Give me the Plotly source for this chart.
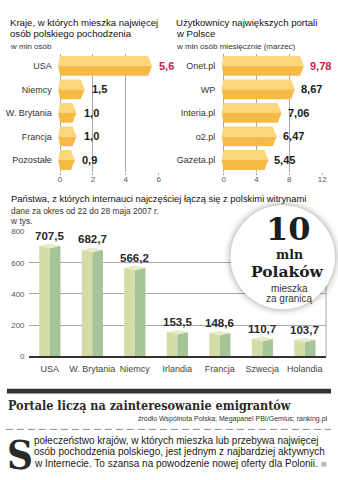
import plotly.graph_objects as go

# ---------------- data ----------------
countries = ["USA", "Niemcy", "W. Brytania", "Francja", "Pozostałe"]
countries_mln = [5.6, 1.5, 1.0, 1.0, 0.9]
countries_ticks = [0, 2, 4, 6]

portals = ["Onet.pl", "WP", "Interia.pl", "o2.pl", "Gazeta.pl"]
portal_users_mln = [9.78, 8.67, 7.06, 6.47, 5.45]
portal_ticks = [0, 4, 8, 12]

visit_countries = ["USA", "W. Brytania", "Niemcy", "Irlandia", "Francja", "Szwecja", "Holandia"]
visits_thousands = [707.5, 682.7, 566.2, 153.5, 148.6, 110.7, 103.7]
visit_ticks = [0, 200, 400, 600, 800]

# ---------------- style helpers ----------------
W, H = 338, 480
SANS = "Liberation Sans Narrow, Liberation Sans, Arial, sans-serif"
SLAB = "DejaVu Serif Condensed, DejaVu Serif, serif"
SLAB_WIDE = "DejaVu Serif, serif"
DARK = "#1a1a1a"
RED = "#c8234b"
YEL_LIGHT = "#fdd67c"
YEL_DARK = "#f5bb46"
GRN_LIGHT = "#d2dda8"
GRN_DARK = "#a7c498"
GRN_CAP = "#e6ebc8"
GRID = "#a8a8a8"


def px(x):
    return x / W


def py(y):
    return 1 - y / H


def fmt(v, d):
    return f"{v:.{d}f}".replace(".", ",")


def hex_bars(values, half, tip, notch):
    ux, uy, lx, ly = [], [], [], []
    for i, v in enumerate(values):
        ux += [-notch, 0, v - tip, v, -notch, None]
        uy += [i, i - half, i - half, i, i, None]
        lx += [-notch, 0, v - tip, v, -notch, None]
        ly += [i, i + half, i + half, i, i, None]
    return ux, uy, lx, ly


fig = go.Figure()

# ---------------- top-left: countries ----------------
tl_ppu = 100 / 6.0
ux, uy, lx, ly = hex_bars(countries_mln, 0.42, 4 / tl_ppu, 2 / tl_ppu)
fig.add_trace(go.Scatter(x=lx, y=ly, mode="lines", fill="toself", fillcolor=YEL_DARK,
                         line=dict(width=0), xaxis="x", yaxis="y", hoverinfo="skip"))
fig.add_trace(go.Scatter(x=ux, y=uy, mode="lines", fill="toself", fillcolor=YEL_LIGHT,
                         line=dict(width=0), xaxis="x", yaxis="y", hoverinfo="skip"))

# ---------------- top-right: portals ----------------
tr_ppu = 100 / 12.0
ux, uy, lx, ly = hex_bars(portal_users_mln, 0.42, 4 / tr_ppu, 2 / tr_ppu)
fig.add_trace(go.Scatter(x=lx, y=ly, mode="lines", fill="toself", fillcolor=YEL_DARK,
                         line=dict(width=0), xaxis="x2", yaxis="y2", hoverinfo="skip"))
fig.add_trace(go.Scatter(x=ux, y=uy, mode="lines", fill="toself", fillcolor=YEL_LIGHT,
                         line=dict(width=0), xaxis="x2", yaxis="y2", hoverinfo="skip"))

# ---------------- bottom: visits ----------------
idx = list(range(len(visit_countries)))
fig.add_trace(go.Bar(x=idx, y=visits_thousands, width=0.25, offset=-0.25,
                     marker=dict(color=GRN_LIGHT, line=dict(width=0)),
                     xaxis="x3", yaxis="y3", hoverinfo="skip"))
fig.add_trace(go.Bar(x=idx, y=visits_thousands, width=0.25, offset=0.0,
                     marker=dict(color=GRN_DARK, line=dict(width=0)),
                     xaxis="x3", yaxis="y3", hoverinfo="skip"))
cap = 2.5 / (127 / 800.0)
cx, cy = [], []
for i, v in zip(idx, visits_thousands):
    cx += [i - 0.25, i, i + 0.25, i, i - 0.25, None]
    cy += [v, v - cap, v, v + cap, v, None]
fig.add_trace(go.Scatter(x=cx, y=cy, mode="lines", fill="toself", fillcolor=GRN_CAP,
                         line=dict(width=0), xaxis="x3", yaxis="y3", hoverinfo="skip"))

annotations = []

# value labels
for i, v in enumerate(countries_mln):
    annotations.append(dict(x=v, y=i, xref="x", yref="y", xanchor="left", yanchor="middle",
                            xshift=5, showarrow=False, text="<b>" + fmt(v, 1) + "</b>",
                            font=dict(family=SANS, size=11, color=RED if i == 0 else DARK)))
for i, v in enumerate(portal_users_mln):
    annotations.append(dict(x=v, y=i, xref="x2", yref="y2", xanchor="left", yanchor="middle",
                            xshift=4, showarrow=False, text="<b>" + fmt(v, 2) + "</b>",
                            font=dict(family=SANS, size=11, color=RED if i == 0 else DARK)))
for i, v in zip(idx, visits_thousands):
    annotations.append(dict(x=i, y=v + cap, xref="x3", yref="y3", xanchor="center", yanchor="bottom",
                            yshift=0, showarrow=False, text="<b>" + fmt(v, 1) + "</b>",
                            font=dict(family=SANS, size=11.5, color="#2a2a2a")))


def txt(x, y, s, size, color=DARK, family=SANS, xanchor="left"):
    annotations.append(dict(x=px(x), y=py(y), xref="paper", yref="paper", xanchor=xanchor,
                            yanchor="middle", showarrow=False, text=s,
                            font=dict(family=family, size=size, color=color)))


# titles
txt(8, 19, "Kraje, w których mieszka najwięcej", 9.6, "#111111")
txt(8, 30.5, "osób polskiego pochodzenia", 9.6, "#111111")
txt(8, 43, "w mln osób", 8, "#333333")
txt(177, 19, "Użytkownicy największych portali", 9.6, "#111111")
txt(177, 30.5, "w Polsce", 9.6, "#111111")
txt(177, 43, "w mln osób miesięcznie (marzec)", 8, "#333333")
txt(9, 198.5, "Państwa, z których internauci najczęściej łączą się z polskimi witrynami", 9.4, "#111111")
txt(9, 210.5, "dane za okres od 22 do 28 maja 2007 r.", 8.4, "#333333")
txt(8, 221, "w tys.", 8.4, "#333333")

# footer
txt(6, 409, "<b>Portale liczą na zainteresowanie emigrantów</b>", 12.5, "#2a2a2a", SLAB)
txt(335, 423, "źródło Wspólnota Polska; Megapanel PBI/Gemius; ranking.pl", 7, "#333333", SANS, "right")
txt(5, 459, "<b>S</b>", 40, "#2a2a2a", SLAB)
txt(32, 445, "połeczeństwo krajów, w których mieszka lub przebywa najwięcej", 10)
txt(32, 456.5, "osób pochodzenia polskiego, jest jednym z najbardziej aktywnych", 10)
txt(32, 468, "w Internecie. To szansa na powodzenie nowej oferty dla Polonii. "
             "<span style='color:#bbbbbb'>■</span>", 10)

# circle callout
CX, CY, R = 287, 258, 53
shapes = []
for extra, op in [(7, 0.025), (5, 0.035), (3, 0.05), (1.5, 0.07)]:
    shapes.append(dict(type="circle", xref="paper", yref="paper",
                       x0=px(CX - R - extra), x1=px(CX + R + extra),
                       y0=py(CY + R + extra), y1=py(CY - R - extra),
                       fillcolor=f"rgba(0,0,0,{op})", line=dict(width=0), layer="above"))
shapes.append(dict(type="circle", xref="paper", yref="paper",
                   x0=px(CX - R), x1=px(CX + R), y0=py(CY + R), y1=py(CY - R),
                   fillcolor="white", line=dict(width=0), layer="above"))
txt(293, 229, "<b>10</b>", 32, "#1e1e1e", SLAB_WIDE, "center")
txt(294, 255.5, "<b>mln</b>", 12.5, "#1e1e1e", SLAB_WIDE, "center")
txt(292, 273, "<b>Polaków</b>", 15.5, "#1e1e1e", SLAB_WIDE, "center")
txt(294, 289.5, "mieszka", 10, "#333333", SANS, "center")
txt(294, 300.5, "za granicą", 10, "#333333", SANS, "center")

# rules
shapes.append(dict(type="rect", xref="paper", yref="paper", x0=px(7), x1=px(336),
                   y0=py(397), y1=py(392), fillcolor="#333333", line=dict(width=0)))
shapes.append(dict(type="line", xref="paper", yref="paper", x0=px(6), x1=px(336),
                   y0=py(433.5), y1=py(433.5), line=dict(color="#8a8a8a", width=1, dash="7px,4px")))
# right frame of bottom chart
shapes.append(dict(type="line", xref="x3 domain", yref="y3 domain", x0=1, x1=1, y0=0, y1=1,
                   line=dict(color=GRID, width=1), layer="below"))

tick_font = dict(family=SANS, size=8, color="#555555")
cat_font = dict(family=SANS, size=9, color="#333333")

fig.update_layout(
    width=W, height=H, margin=dict(l=0, r=0, t=0, b=0),
    paper_bgcolor="white", plot_bgcolor="white", showlegend=False,
    barmode="overlay",
    annotations=annotations, shapes=shapes,
    xaxis=dict(domain=[px(61 - 0.2 * tl_ppu), px(161)], range=[-0.2, 6], anchor="y",
               tickvals=countries_ticks, showgrid=True, gridcolor=GRID, gridwidth=1,
               zeroline=False, showline=False, ticks="outside", ticklen=2, tickcolor=GRID,
               ticklabelstandoff=-2, tickangle=0, tickfont=tick_font, fixedrange=True),
    yaxis=dict(domain=[py(171), py(51)], range=[4.5, -0.5], anchor="x",
               tickvals=list(range(len(countries))), ticktext=countries,
               showgrid=False, zeroline=False, showline=False, ticks="",
               ticklabelstandoff=4, tickfont=cat_font, fixedrange=True),
    xaxis2=dict(domain=[px(227 - 0.4 * tr_ppu), px(327)], range=[-0.4, 12], anchor="y2",
                tickvals=portal_ticks, showgrid=True, gridcolor=GRID, gridwidth=1,
                zeroline=False, showline=False, ticks="outside", ticklen=2, tickcolor=GRID,
                ticklabelstandoff=-2, tickangle=0, tickfont=tick_font, fixedrange=True),
    yaxis2=dict(domain=[py(171), py(51)], range=[4.5, -0.5], anchor="x2",
                tickvals=list(range(len(portals))), ticktext=portals,
                showgrid=False, zeroline=False, showline=False, ticks="",
                ticklabelstandoff=4, tickfont=cat_font, fixedrange=True),
    xaxis3=dict(domain=[px(29), px(331)], range=[-0.5, 6.5], anchor="y3",
                tickvals=idx, ticktext=visit_countries, showgrid=False, zeroline=False,
                showline=True, linecolor="#333333", linewidth=2, ticks="", tickangle=0,
                ticklabelstandoff=3,
                tickfont=dict(family=SANS, size=9, color="#444444"), fixedrange=True),
    yaxis3=dict(domain=[py(359), py(232)], range=[0, 800], anchor="x3",
                tickvals=visit_ticks, showgrid=True, gridcolor=GRID, gridwidth=1,
                zeroline=False, showline=False, ticks="", ticklabelstandoff=3,
                tickfont=tick_font, fixedrange=True),
)

fig.write_html("out.html", config={"displayModeBar": False})
